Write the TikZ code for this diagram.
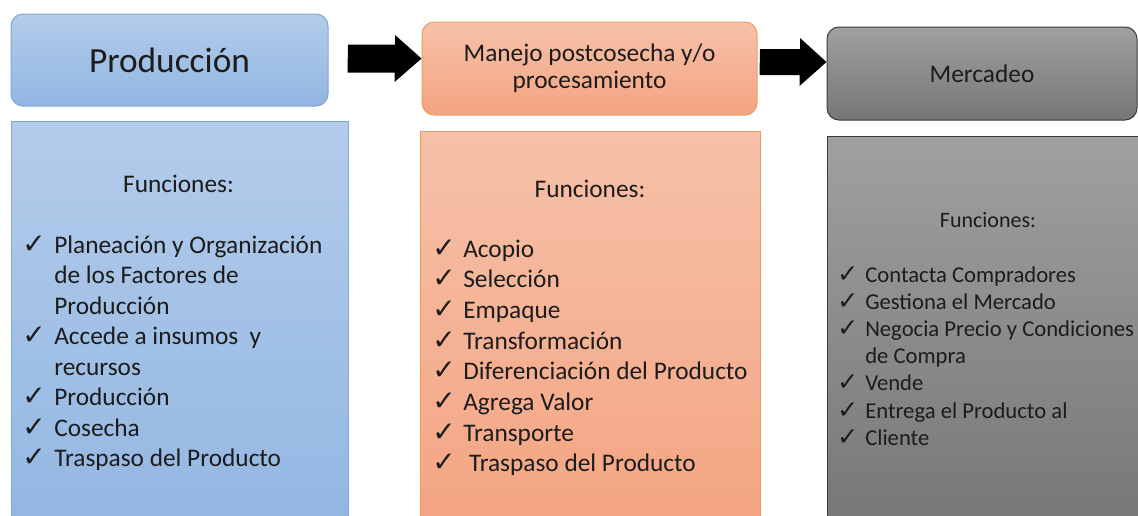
\documentclass[tikz,border=0pt]{standalone}
\usepackage{fontspec}
\setmainfont{Carlito}
\newfontfamily\checkfont[Scale=1.1]{DejaVu Sans}
\usepackage{xcolor}
\usepackage{tikz}

\definecolor{bluetop}{HTML}{B3CCEA}
\definecolor{bluebot}{HTML}{92B6E2}
\definecolor{blueline}{HTML}{7EA6D8}
\definecolor{orangetop}{HTML}{F6C1A9}
\definecolor{orangebot}{HTML}{F4A481}
\definecolor{orangeline}{HTML}{F29A63}
\definecolor{graytop}{HTML}{A0A0A0}
\definecolor{graybot}{HTML}{767676}
\definecolor{grayline}{HTML}{3A3A3A}
\definecolor{txt}{HTML}{1C1C1C}

% check mark in front of each function
\newcommand{\chk}[1][24pt]{\makebox[#1][l]{\checkfont ✓}}

\tikzset{
  stagebox/.style={draw, rounded corners=9pt, line width=0.75pt, inner sep=0pt, text=txt},
  funcbox/.style={draw, line width=0.75pt, inner sep=0pt},
  functitle/.style={inner sep=0pt, text=txt, anchor=base},
  functext/.style={inner sep=0pt, text=txt, anchor=base west},
}

\begin{document}
\begin{tikzpicture}[x=0.75pt, y=-0.75pt]

    \useasboundingbox (0,0) rectangle (1138,515);
    \clip (0,0) rectangle (1138,515);

    % Function boxes (cut at the bottom)
    \node[funcbox, top color=bluetop, bottom color=bluebot, draw=blueline,
          minimum width=252.75pt, minimum height=310.5pt] (prodfun) at (179.5, 328) {};
    \node[funcbox, top color=orangetop, bottom color=orangebot, draw=orangeline,
          minimum width=255pt, minimum height=303pt] (procfun) at (590, 333) {};
    \node[funcbox, top color=graytop, bottom color=graybot, draw=grayline,
          minimum width=238.5pt, minimum height=299.25pt] (mercfun) at (986, 335.5) {};

    % Stages
    \node[stagebox, top color=bluetop, bottom color=bluebot, draw=blueline,
          minimum width=237.75pt, minimum height=69pt,
          font=\fontsize{26.5}{30}\selectfont] (prod) at (169.5, 60) {Producción};

    \node[stagebox, top color=orangetop, bottom color=orangebot, draw=orangeline,
          minimum width=251.25pt, minimum height=69.75pt, align=center,
          font=\fontsize{19}{20.25}\selectfont] (proc) at (589.5, 68.5)
          {Manejo postcosecha y/o\\ procesamiento};

    \node[stagebox, top color=graytop, bottom color=graybot, draw=grayline,
          minimum width=232.5pt, minimum height=69.75pt,
          font=\fontsize{19}{22.5}\selectfont] (merc) at (982, 73.5) {Mercadeo};

    % --------------------
    % Arrows
    % --------------------

    \coordinate (a1) at (348, 58.5);
    \coordinate (a2) at (760, 62);

    \fill[black] (a1) ++(0,-14) -- ++(47,0) -- ++(0,-9.5) -- (a1 -| proc.west)
        -- ++(-27,23.5) -- ++(0,-9.5) -- ++(-47,0) -- cycle;
    \fill[black] (a2) ++(0,-13) -- ++(40,0) -- ++(0,-11) -- (a2 -| merc.west)
        -- ++(-27,24) -- ++(0,-11) -- ++(-40,0) -- cycle;

    % --------------------
    % Functions
    % --------------------

    \node[functitle, font=\fontsize{19}{23}\selectfont] (prodtit) at (178.5, 192) {Funciones:};
    \node[functext, font=\fontsize{19}{22.9}\selectfont] (prodlist) at (22, 253) {
      \begin{minipage}[t]{250pt}
        \raggedright
        \chk Planeación y Organización\\
        \hspace*{24pt}de los Factores de\\
        \hspace*{24pt}Producción\\
        \chk Accede a insumos\ \ y\\
        \hspace*{24pt}recursos\\
        \chk Producción\\
        \chk Cosecha\\
        \chk Traspaso del Producto
      \end{minipage}
    };

    \node[functitle, font=\fontsize{19}{23}\selectfont] (proctit) at (590, 197) {Funciones:};
    \node[functext, font=\fontsize{19}{23}\selectfont] (proclist) at (432, 257) {
      \begin{minipage}[t]{250pt}
        \raggedright
        \chk[23.25pt]Acopio\\
        \chk[23.25pt]Selección\\
        \chk[23.25pt]Empaque\\
        \chk[23.25pt]Transformación\\
        \chk[23.25pt]Diferenciación del Producto\\
        \chk[23.25pt]Agrega Valor\\
        \chk[23.25pt]Transporte\\
        \chk[23.25pt]\ Traspaso del Producto
      \end{minipage}
    };

    \node[functitle, font=\fontsize{16.5}{20}\selectfont] (merctit) at (988, 227) {Funciones:};
    \node[functext, font=\fontsize{17}{20.4}\selectfont] (merclist) at (837, 282) {
      \begin{minipage}[t]{240pt}
        \raggedright
        \chk[21pt]Contacta Compradores\\
        \chk[21pt]Gestiona el Mercado\\
        \chk[21pt]Negocia Precio y Condiciones\\
        \hspace*{21pt}de Compra\\
        \chk[21pt]Vende\\
        \chk[21pt]Entrega el Producto al\\
        \chk[21pt]Cliente
      \end{minipage}
    };

  \end{tikzpicture}
\end{document}
